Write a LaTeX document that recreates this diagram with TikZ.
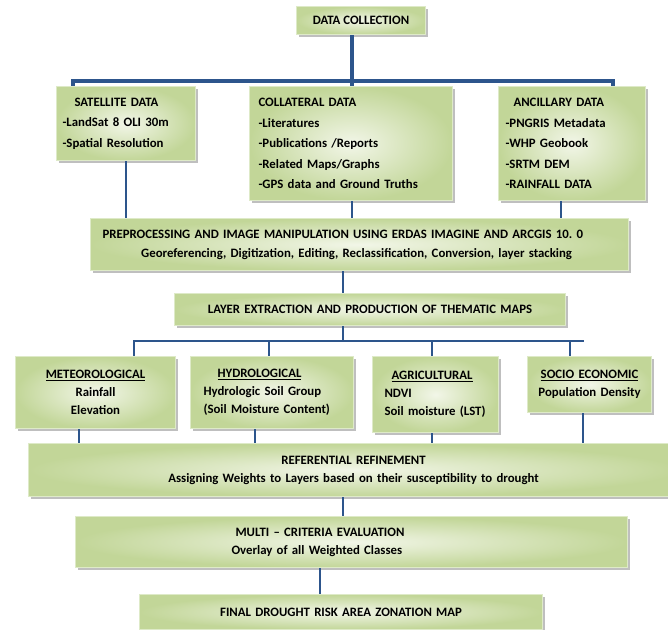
\documentclass[tikz,border=0pt]{standalone}
\usepackage{fontspec}
\setmainfont{Carlito}
\usepackage{tikz}
\usetikzlibrary{shadows,calc}

\definecolor{boxdark}{RGB}{194,214,152}
\definecolor{boxlight}{RGB}{242,246,232}
\definecolor{boxedge}{RGB}{222,234,200}
\definecolor{linkblue}{RGB}{45,85,140}

\begin{document}
\begin{tikzpicture}[
    x=0.75pt, y=-0.75pt,
    box/.style={rectangle, anchor=north west, draw=boxedge, line width=0.8pt, inner color=boxlight, outer color=boxdark, inner sep=0pt, drop shadow={shadow xshift=2pt, shadow yshift=-2pt, fill=black!50, opacity=0.5}, font=\fontsize{9.6}{13.5}\selectfont\bfseries},
    tall/.style={font=\fontsize{9.6}{15.4}\selectfont\bfseries},
    trunk/.style={draw=linkblue, line width=2.6pt},
    link/.style={draw=linkblue, line width=2pt}
]
    \path[use as bounding box, fill=white] (0,0) rectangle (668,630);

    % Data sources
    \node[box, minimum width=96.75pt, minimum height=21pt, align=center] (datacol) at (296,6) {DATA COLLECTION};
    \node[box, tall, text width=104.25pt, minimum height=55.5pt, align=left] (satellite) at (56,86) {\hspace*{13.5pt}SATELLITE DATA\\\hspace*{4.5pt}-LandSat 8 OLI 30m\\\hspace*{4.5pt}-Spatial Resolution};
    \node[box, tall, text width=152.25pt, minimum height=85.5pt, align=left] (collateral) at (249,86) {\hspace*{6.75pt}COLLATERAL DATA\\\hspace*{6.75pt}-Literatures\\\hspace*{6.75pt}-Publications /Reports\\\hspace*{6.75pt}-Related Maps/Graphs\\\hspace*{6.75pt}-GPS data and Ground Truths};
    \node[box, tall, text width=110.25pt, minimum height=85.5pt, align=left] (ancillary) at (498,86) {\hspace*{11.25pt}ANCILLARY DATA\\\hspace*{5.25pt}-PNGRIS Metadata\\\hspace*{5.25pt}-WHP Geobook\\\hspace*{5.25pt}-SRTM DEM\\\hspace*{5.25pt}-RAINFALL DATA};

    % Processing
    \node[box, text width=403.5pt, minimum height=39pt, align=left] (preproc) at (90,218) {\hspace*{9pt}PREPROCESSING AND IMAGE MANIPULATION USING ERDAS IMAGINE AND ARCGIS 10.\ 0\\[0.75pt]\hspace*{38pt}Georeferencing, Digitization, Editing, Reclassification, Conversion, layer stacking};
    \node[box, text width=293.25pt, minimum height=24pt, align=center] (layers) at (174,293) {LAYER EXTRACTION AND PRODUCTION OF THEMATIC MAPS};

    % Thematic layers
    \node[box, text width=120pt, minimum height=54pt, align=center] (meteo) at (15,356) {\underline{METEOROLOGICAL}\\Rainfall\\Elevation};
    \node[box, text width=122.25pt, minimum height=54pt, align=left] (hydro) at (190,356) {\hspace*{20.25pt}\underline{HYDROLOGICAL}\\\hspace*{9.75pt}Hydrologic Soil Group\\\hspace*{9.75pt}(Soil Moisture Content)};
    \node[box, text width=94.5pt, minimum height=57pt, align=left] (agri) at (372,356) {\hspace*{14.25pt}\underline{AGRICULTURAL}\\\hspace*{9pt}NDVI\\\hspace*{9pt}Soil moisture (LST)};
    \node[box, text width=93pt, minimum height=42pt, align=center] (socio) at (527,356) {\underline{SOCIO ECONOMIC}\\Population Density};

    % Weighting and output
    \node[box, text width=487.5pt, minimum height=39.75pt, align=center] (refine) at (28,443) {REFERENTIAL REFINEMENT\\Assigning Weights to Layers based on their susceptibility to drought};
    \node[box, text width=414pt, minimum height=38.25pt, align=left] (mce) at (75,516) {\hspace*{120pt}MULTI – CRITERIA EVALUATION\\\hspace*{117pt}Overlay of all Weighted Classes};
    \node[box, text width=302.25pt, minimum height=26.25pt, align=center] (final) at (139,594) {FINAL DROUGHT RISK AREA ZONATION MAP};

    % Top tree
    \coordinate (bus1) at (352,81);
    \draw[trunk] (datacol.south -| bus1) -- (bus1);
    \draw[trunk] ($(satellite.north west)+(17,0)$) |- (bus1) -| ($(ancillary.north east)+(-33,0)$);
    \draw[trunk] (bus1) -- (collateral.north -| bus1);

    % Into preprocessing
    \coordinate (anctap) at ($(ancillary.south)+(-11,0)$);
    \draw[link] (satellite.south) -- (satellite.south |- preproc.north);
    \draw[link] (collateral.south -| bus1) -- (preproc.north -| bus1);
    \draw[link] (anctap) -- (anctap |- preproc.north);

    % Layer tree
    \coordinate (bus2) at (343,341);
    \coordinate (barL) at (134,341);
    \coordinate (barR) at (584,341);
    \draw[link] (preproc.south -| bus2) -- (layers.north -| bus2);
    \draw[link] (layers.south -| bus2) -- (bus2);
    \draw[link] (meteo.north -| barL) |- (barR);
    \foreach \n/\x in {hydro/269, agri/432, socio/570}
        \draw[link] (\x,341) -- (\n.north -| \x,0);

    % Into refinement
    \foreach \n/\x in {meteo/79, hydro/255, agri/432, socio/583}
        \draw[link] (\n.south -| \x,0) -- (refine.north -| \x,0);
    \draw[link] (refine.south -| bus2) -- (mce.north -| bus2);
    \draw[link] (mce.south -| 320,0) -- (final.north -| 320,0);
\end{tikzpicture}
\end{document}
